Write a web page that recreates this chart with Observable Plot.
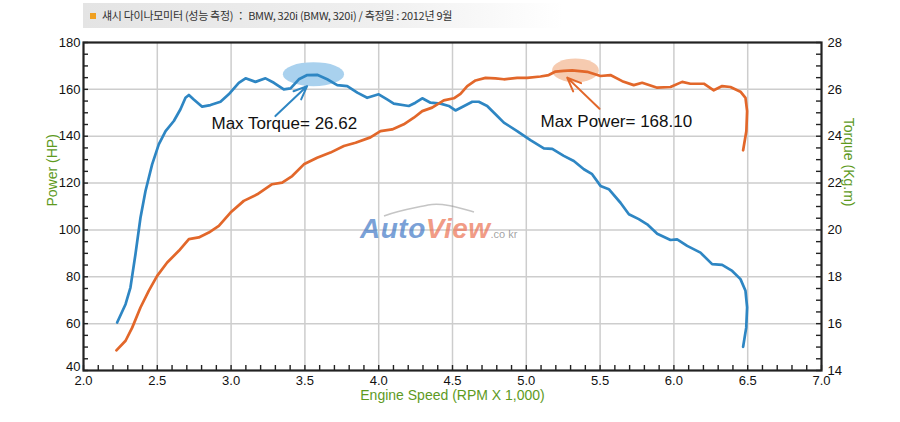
<!DOCTYPE html>
<html>
<head>
<meta charset="utf-8">
<script src="https://cdn.jsdelivr.net/npm/d3@7"></script>
<script src="https://cdn.jsdelivr.net/npm/@observablehq/plot@0.6"></script>
<style>
  body { margin: 0; background: #fff; }
  #wrap { position: relative; width: 900px; height: 422px; overflow: hidden; }
  #title { height: 30px; position: relative; }
  #title .band { position: absolute; left: 83px; top: 3px; width: 480px; height: 25px;
    background: linear-gradient(to right, #e4e4e4, #efefef 60%, #ffffff); }
  #title .txt { position: absolute; left: 90px; top: 3px; height: 25px; line-height: 25px;
    font-family: "Noto Sans CJK KR", "Noto Sans", sans-serif; font-size: 11px; letter-spacing: -0.3px; color: #333; white-space: nowrap; }
  #title .sq { display: inline-block; width: 6px; height: 6px; background: #f0a020; margin-right: 6px; vertical-align: 1px; }
  #mark { position: absolute; left: 360px; top: 215px; font-family: "Liberation Sans", Arial, sans-serif;
    font-style: italic; font-weight: bold; font-size: 28px; line-height: 28px; white-space: nowrap; letter-spacing: 0.5px; }
  #mark .a { color: rgba(70, 125, 200, 0.72); }
  #mark .v { color: rgba(236, 118, 88, 0.72); }
  #mark .c { color: rgba(120, 120, 120, 0.7); font-size: 11px; font-style: normal; font-weight: normal; letter-spacing: 0; }
  #swoosh { position: absolute; left: 380px; top: 200px; }
</style>
</head>
<body>
<div id="wrap">
  <div id="title"><div class="band"></div><div class="txt"><span class="sq"></span>섀시 다이나모미터 (성능 측정) ： BMW, 320i (BMW, 320i) / 측정일 : 2012년 9월</div></div>
  <div id="chart"></div>
  <svg id="swoosh" width="100" height="20"><path d="M4,16 C20,10 35,8 48,5 C62,2 80,8 94,12" fill="none" stroke="rgba(150,150,150,0.55)" stroke-width="1.5"/></svg>
  <div id="mark"><span class="a">Auto</span><span class="v">View</span><span class="c">.co kr</span></div>
</div>
<script>
// ---- data (engine speed in RPM x 1,000) ----
const torqueRpm = [2.228, 2.285, 2.318, 2.352, 2.386, 2.42, 2.465, 2.51, 2.556, 2.612, 2.657, 2.691, 2.714, 2.747, 2.804, 2.86, 2.928, 2.984, 3.052, 3.098, 3.165, 3.233, 3.29, 3.357, 3.403, 3.459, 3.516, 3.583, 3.651, 3.719, 3.787, 3.855, 3.922, 4.0, 4.057, 4.102, 4.204, 4.249, 4.295, 4.351, 4.419, 4.475, 4.52, 4.566, 4.634, 4.678, 4.735, 4.803, 4.848, 4.938, 5.028, 5.119, 5.176, 5.254, 5.322, 5.39, 5.446, 5.503, 5.559, 5.638, 5.695, 5.762, 5.819, 5.887, 5.977, 6.022, 6.09, 6.18, 6.259, 6.327, 6.395, 6.451, 6.485, 6.496, 6.49, 6.469];
const torqueKgm = [16.05, 16.83, 17.54, 18.96, 20.52, 21.66, 22.80, 23.65, 24.22, 24.65, 25.15, 25.64, 25.76, 25.57, 25.26, 25.33, 25.47, 25.79, 26.28, 26.47, 26.32, 26.47, 26.28, 26.00, 26.04, 26.43, 26.61, 26.62, 26.43, 26.18, 26.14, 25.86, 25.64, 25.79, 25.57, 25.39, 25.29, 25.43, 25.62, 25.43, 25.39, 25.29, 25.10, 25.25, 25.47, 25.47, 25.29, 24.86, 24.58, 24.22, 23.83, 23.48, 23.46, 23.16, 22.94, 22.59, 22.38, 21.88, 21.74, 21.16, 20.67, 20.46, 20.24, 19.84, 19.57, 19.60, 19.32, 19.03, 18.54, 18.51, 18.25, 17.90, 17.40, 16.69, 15.83, 15.01];

const powerRpm = [2.223, 2.285, 2.33, 2.386, 2.442, 2.499, 2.567, 2.646, 2.714, 2.781, 2.849, 2.917, 2.996, 3.086, 3.177, 3.278, 3.346, 3.414, 3.493, 3.583, 3.673, 3.764, 3.843, 3.944, 4.012, 4.091, 4.17, 4.238, 4.295, 4.362, 4.441, 4.509, 4.554, 4.6, 4.656, 4.724, 4.791, 4.848, 4.938, 5.006, 5.096, 5.152, 5.198, 5.253, 5.311, 5.412, 5.503, 5.57, 5.65, 5.728, 5.785, 5.887, 5.977, 6.056, 6.112, 6.203, 6.27, 6.327, 6.383, 6.451, 6.485, 6.496, 6.491, 6.469];
const powerHp = [48.6, 52.7, 58.3, 66.9, 74.0, 80.4, 86.1, 91.1, 96.1, 96.8, 98.9, 101.7, 107.4, 112.4, 115.2, 119.5, 120.2, 123.0, 128.0, 130.8, 133.0, 135.8, 137.2, 139.5, 142.2, 142.9, 145.1, 147.9, 150.7, 152.2, 155.3, 156.2, 158.1, 161.4, 163.8, 164.9, 164.7, 164.3, 164.9, 164.9, 165.5, 166.1, 167.6, 167.9, 168.1, 167.5, 165.7, 166.1, 163.5, 161.8, 162.8, 160.7, 161.0, 163.2, 162.4, 162.4, 159.6, 161.4, 161.0, 159.0, 156.4, 150.7, 142.2, 134.0];

const xTicks = [2.0, 2.5, 3.0, 3.5, 4.0, 4.5, 5.0, 5.5, 6.0, 6.5, 7.0];
const powerTicks = [40, 60, 80, 100, 120, 140, 160, 180];
const torqueTicks = [14, 16, 18, 20, 22, 24, 26, 28];

// annotations (data coordinates)
const highlights = [
  { rpm: 3.558, hp: 166.5, kind: "torque" },
  { rpm: 5.333, hp: 168.1, kind: "power" }
];
const arrows = [
  { x1: 3.30, y1: 148.6, x2: 3.515, y2: 161.4, kind: "torque" },
  { x1: 5.496, y1: 151.7, x2: 5.277, y2: 165.0, kind: "power" }
];
const labels = [
  { rpm: 2.867, hp: 145.2, text: "Max Torque= 26.62" },
  { rpm: 5.096, hp: 146.4, text: "Max Power= 168.10" }
];

// torque axis shares the frame: 14 kg.m -> 40 HP, 28 kg.m -> 180 HP
const toHpScale = t => 40 + (t - 14) * 10;
const fromHpScale = v => Math.round((v - 40) / 10 + 14);

const torqueData = torqueRpm.map((r, i) => ({ rpm: r, v: toHpScale(torqueKgm[i]) }));
const powerData = powerRpm.map((r, i) => ({ rpm: r, v: powerHp[i] }));

const BLUE = "#2e86c3", ORANGE = "#e2672a", GREEN = "#5e9a1e";
const W = 900, H = 392, mL = 83, mR = 79, mT = 12, mB = 52;
const pw = W - mL - mR, ph = H - mT - mB;

const xMinor = d3.range(20, 71).map(d => d / 10);
const yMinor = d3.range(40, 181, 5);

const chart = Plot.plot({
  width: W, height: H,
  marginLeft: mL, marginRight: mR, marginTop: mT, marginBottom: mB,
  x: { domain: [2, 7] },
  y: { domain: [40, 180] },
  style: { fontFamily: "'Liberation Sans', Arial, sans-serif", fontSize: "13px", color: "#111", background: "#fff" },
  marks: [
    Plot.ruleX(xTicks.slice(1, -1), { stroke: "#cdcdcd", strokeWidth: 1.5 }),
    Plot.ruleY(powerTicks.slice(1, -1), { stroke: "#cdcdcd", strokeWidth: 1.5 }),
    Plot.dot(highlights, { x: "rpm", y: "hp", r: 12, fill: d => d.kind === "torque" ? "#a9d1ee" : "#f6cbb0", stroke: null }),
    Plot.line(torqueData, { x: "rpm", y: "v", stroke: BLUE, strokeWidth: 2.7, strokeLinejoin: "round" }),
    Plot.line(powerData, { x: "rpm", y: "v", stroke: ORANGE, strokeWidth: 2.7, strokeLinejoin: "round" }),
    Plot.arrow(arrows, { x1: "x1", y1: "y1", x2: "x2", y2: "y2", stroke: d => d.kind === "torque" ? BLUE : ORANGE, strokeWidth: 2, headLength: 13, headAngle: 45 }),
    Plot.text(labels, { x: "rpm", y: "hp", text: "text", textAnchor: "start", fontSize: 17, fill: "#111" }),
    Plot.frame({ stroke: "#222", strokeWidth: 2.2 }),
    Plot.ruleY(yMinor, { insetRight: pw - 5, stroke: "#222", strokeWidth: 1.4 }),
    Plot.ruleY(yMinor, { insetLeft: pw - 5, stroke: "#222", strokeWidth: 1.4 }),
    Plot.ruleX(xMinor, { insetTop: ph - 5, stroke: "#222", strokeWidth: 1.4 }),
    Plot.axisX({ ticks: xTicks, tickFormat: d3.format(".1f"), tickSize: 0, tickPadding: 5, label: null, fontSize: 13 }),
    Plot.axisY({ anchor: "left", ticks: powerTicks.slice(1), tickSize: 0, tickPadding: 3, label: null, fontSize: 13 }),
    Plot.axisY({ anchor: "left", ticks: powerTicks.slice(0, 1), tickSize: 0, tickPadding: 3, dy: -4, label: null, fontSize: 13 }),
    Plot.axisY({ anchor: "right", ticks: torqueTicks.map(toHpScale), tickFormat: fromHpScale, tickSize: 0, tickPadding: 6, label: null, fontSize: 13 }),
    Plot.text(["Power (HP)"], { frameAnchor: "left", rotate: -90, dx: -31, fill: GREEN, fontSize: 14 }),
    Plot.text(["Torque (Kg.m)"], { frameAnchor: "right", rotate: 90, dx: 27, fill: GREEN, fontSize: 14 }),
    Plot.text(["Engine Speed (RPM X 1,000)"], { frameAnchor: "bottom", lineAnchor: "middle", dy: 25.5, fill: GREEN, fontSize: 14 })
  ]
});

// stretch highlight dots into ellipses
const stretch = [2.55, 1.95];
d3.select(chart).selectAll('g[aria-label="dot"] circle').each(function (d, i) {
  const c = d3.select(this);
  const cx = +c.attr("cx"), cy = +c.attr("cy");
  const t = c.attr("transform") || "";
  c.attr("transform", `${t} translate(${cx},${cy}) scale(${stretch[i]},1) translate(${-cx},${-cy})`);
});

document.getElementById("chart").appendChild(chart);
</script>
</body>
</html>
